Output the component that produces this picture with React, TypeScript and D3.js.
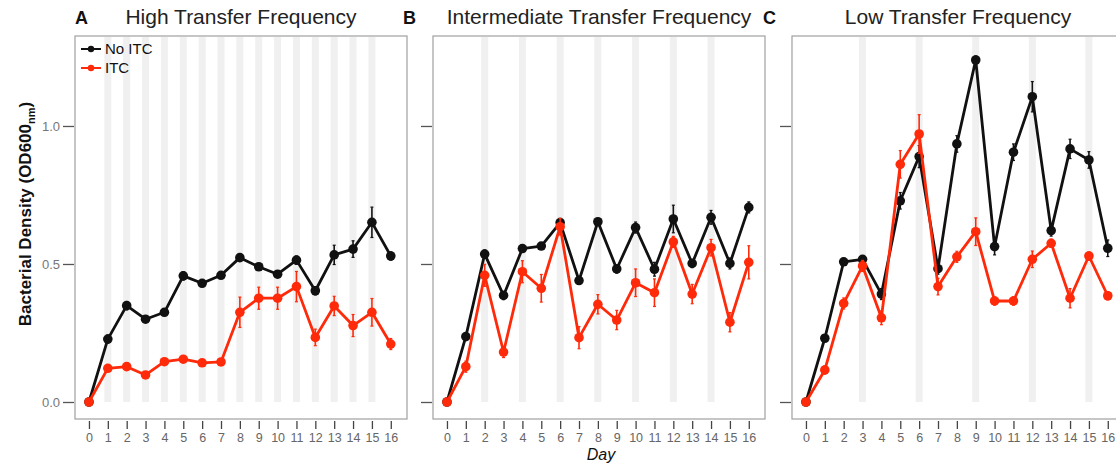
import React, { useEffect, useRef } from 'react';
import * as d3 from 'd3';

// days on the x axis
const days = [0, 1, 2, 3, 4, 5, 6, 7, 8, 9, 10, 11, 12, 13, 14, 15, 16];
const yTicks = [0, 0.5, 1.0];

// transfer days (grey bands)
const highStripes = [1, 2, 3, 4, 5, 6, 7, 8, 9, 10, 11, 12, 13, 14, 15];
const interStripes = [2, 4, 6, 8, 10, 12, 14];
const lowStripes = [3, 6, 9, 12, 15];

// High transfer frequency
const highNoItc = [0, 0.228, 0.349, 0.30, 0.325, 0.457, 0.43, 0.459, 0.523, 0.49, 0.463, 0.514, 0.403, 0.533, 0.554, 0.651, 0.529];
const highNoItcErr = [0, 0.015, 0.015, 0.012, 0.012, 0.015, 0.012, 0.01, 0.012, 0.012, 0.012, 0.015, 0.015, 0.035, 0.03, 0.055, 0.015];
const highItc = [0, 0.122, 0.128, 0.098, 0.146, 0.155, 0.142, 0.145, 0.325, 0.376, 0.376, 0.418, 0.234, 0.348, 0.277, 0.325, 0.21];
const highItcErr = [0, 0.01, 0.012, 0.01, 0.012, 0.012, 0.01, 0.01, 0.055, 0.04, 0.04, 0.055, 0.03, 0.035, 0.04, 0.05, 0.02];

// Intermediate transfer frequency
const interNoItc = [0, 0.237, 0.536, 0.386, 0.556, 0.565, 0.65, 0.44, 0.653, 0.482, 0.632, 0.481, 0.663, 0.502, 0.669, 0.502, 0.705];
const interNoItcErr = [0, 0.012, 0.015, 0.015, 0.012, 0.012, 0.015, 0.012, 0.012, 0.015, 0.02, 0.025, 0.05, 0.015, 0.025, 0.02, 0.02];
const interItc = [0, 0.128, 0.459, 0.181, 0.472, 0.412, 0.635, 0.233, 0.354, 0.297, 0.432, 0.396, 0.58, 0.391, 0.559, 0.289, 0.506];
const interItcErr = [0, 0.02, 0.04, 0.02, 0.04, 0.05, 0.03, 0.04, 0.035, 0.035, 0.05, 0.05, 0.02, 0.035, 0.03, 0.035, 0.06];

// Low transfer frequency
const lowNoItc = [0, 0.231, 0.508, 0.517, 0.391, 0.729, 0.889, 0.483, 0.935, 1.239, 0.563, 0.905, 1.106, 0.621, 0.917, 0.877, 0.557];
const lowNoItcErr = [0, 0.012, 0.012, 0.012, 0.02, 0.03, 0.04, 0.02, 0.03, 0.015, 0.03, 0.03, 0.055, 0.02, 0.035, 0.03, 0.03];
const lowItc = [0, 0.116, 0.357, 0.493, 0.305, 0.861, 0.971, 0.418, 0.526, 0.617, 0.366, 0.366, 0.517, 0.575, 0.376, 0.529, 0.385];
const lowItcErr = [0, 0.015, 0.02, 0.02, 0.025, 0.05, 0.07, 0.03, 0.02, 0.05, 0.015, 0.015, 0.03, 0.015, 0.035, 0.015, 0.015];

const BLACK = '#111';
const RED = '#ff2a0a';

const panels = [
  { letter: 'A', title: 'High Transfer Frequency', left: 75, letterX: 75, stripes: highStripes,
    series: [{ vals: highNoItc, err: highNoItcErr, color: BLACK }, { vals: highItc, err: highItcErr, color: RED }] },
  { letter: 'B', title: 'Intermediate Transfer Frequency', left: 433, letterX: 403, stripes: interStripes,
    series: [{ vals: interNoItc, err: interNoItcErr, color: BLACK }, { vals: interItc, err: interItcErr, color: RED }] },
  { letter: 'C', title: 'Low Transfer Frequency', left: 792, letterX: 763, stripes: lowStripes,
    series: [{ vals: lowNoItc, err: lowNoItcErr, color: BLACK }, { vals: lowItc, err: lowItcErr, color: RED }] },
];

const W = 1116;
const H = 467;
const panelW = 332;
const top = 36;
const bottom = 419;
const font = "'Liberation Sans', Arial, Helvetica, sans-serif";

export default function App() {
  const ref = useRef<SVGSVGElement>(null);

  useEffect(() => {
    const svg = d3.select(ref.current);
    svg.selectAll('*').remove();

    const x = d3.scaleLinear().domain([-0.74, 16.86]).range([0, panelW]);
    const y = d3.scaleLinear().domain([-0.0616, 1.326]).range([bottom, top]);

    panels.forEach((p, i) => {
      const g = svg.append('g').attr('transform', `translate(${p.left},0)`);

      // grey transfer bands
      g.selectAll('.band')
        .data(p.stripes)
        .enter().append('rect')
        .attr('class', 'band')
        .attr('x', (d) => x(d) - 3.5)
        .attr('y', top + 1)
        .attr('width', 7)
        .attr('height', y(0) - top - 1)
        .attr('fill', '#f0f0f0');

      // frame
      g.append('rect')
        .attr('x', 0).attr('y', top)
        .attr('width', panelW).attr('height', bottom - top)
        .attr('fill', 'none')
        .attr('stroke', '#a0a0a0')
        .attr('stroke-width', 1.2);

      // x axis, sits just below the frame
      const xa = g.append('g')
        .attr('transform', `translate(0,${bottom + 2})`)
        .call(d3.axisBottom(x).tickValues(days).tickSize(8).tickPadding(4).tickFormat(d3.format('d')));
      xa.select('.domain').remove();
      xa.selectAll('line').attr('stroke', '#444').attr('stroke-width', 1.3);
      xa.selectAll('text').attr('fill', '#666').attr('font-size', 12.5).attr('font-family', font);

      // y axis, labels only on the first panel
      const ya = g.append('g')
        .attr('transform', 'translate(-1,0)')
        .call(d3.axisLeft(y).tickValues(yTicks).tickSize(11).tickPadding(3)
          .tickFormat(i === 0 ? d3.format('.1f') : () => ''));
      ya.select('.domain').remove();
      ya.selectAll('line').attr('stroke', '#555').attr('stroke-width', 1.3);
      ya.selectAll('text').attr('fill', '#777').attr('font-size', 13).attr('font-family', font);

      const line = d3.line<number>()
        .x((_, j) => x(days[j]))
        .y((d) => y(d));

      p.series.forEach((s) => {
        const sg = g.append('g');
        // error bars
        sg.selectAll('.err')
          .data(s.vals)
          .enter().append('line')
          .attr('x1', (_, j) => x(days[j]))
          .attr('x2', (_, j) => x(days[j]))
          .attr('y1', (d, j) => y(d - s.err[j]))
          .attr('y2', (d, j) => y(d + s.err[j]))
          .attr('stroke', s.color)
          .attr('stroke-width', 1.6);
        sg.selectAll('.cap')
          .data(s.vals.flatMap((d, j) => (s.err[j] > 0 ? [[j, d - s.err[j]], [j, d + s.err[j]]] : [])))
          .enter().append('line')
          .attr('x1', (d) => x(days[d[0]]) - 1.5)
          .attr('x2', (d) => x(days[d[0]]) + 1.5)
          .attr('y1', (d) => y(d[1]))
          .attr('y2', (d) => y(d[1]))
          .attr('stroke', s.color)
          .attr('stroke-width', 1.2);

        sg.append('path')
          .attr('d', line(s.vals))
          .attr('fill', 'none')
          .attr('stroke', s.color)
          .attr('stroke-width', 2.8)
          .attr('stroke-linejoin', 'round');

        sg.selectAll('.pt')
          .data(s.vals)
          .enter().append('circle')
          .attr('cx', (_, j) => x(days[j]))
          .attr('cy', (d) => y(d))
          .attr('r', 4.8)
          .attr('fill', s.color);
      });

      // panel letter + title
      svg.append('text')
        .attr('x', p.letterX).attr('y', 24)
        .attr('font-family', font).attr('font-weight', 'bold').attr('font-size', 18)
        .attr('fill', '#111')
        .text(p.letter);
      svg.append('text')
        .attr('x', p.left + panelW / 2).attr('y', 24)
        .attr('text-anchor', 'middle')
        .attr('font-family', font).attr('font-size', 21)
        .attr('fill', '#222')
        .text(p.title);

      if (i === 0) {
        // legend
        const leg = [{ label: 'No ITC', color: BLACK }, { label: 'ITC', color: RED }];
        const lg = g.selectAll('.leg')
          .data(leg)
          .enter().append('g')
          .attr('transform', (_, k) => `translate(0,${49 + k * 19})`);
        lg.append('line')
          .attr('x1', 6).attr('x2', 26)
          .attr('stroke', (d) => d.color).attr('stroke-width', 2);
        lg.append('circle')
          .attr('cx', 16).attr('r', 3.2)
          .attr('fill', (d) => d.color);
        lg.append('text')
          .attr('x', 30).attr('dy', '0.35em')
          .attr('font-family', font).attr('font-size', 15)
          .attr('fill', '#111')
          .text((d) => d.label);
      }
    });

    // y label with subscript
    const yl = svg.append('text')
      .attr('transform', 'translate(31,214) rotate(-90)')
      .attr('text-anchor', 'middle')
      .attr('font-family', font).attr('font-weight', 'bold').attr('font-size', 17)
      .attr('fill', '#111');
    yl.append('tspan').text('Bacterial Density (OD600');
    yl.append('tspan').attr('font-size', 11).attr('dy', 4).text('nm');
    yl.append('tspan').attr('dy', -4).text(')');

    // x label
    svg.append('text')
      .attr('x', 601).attr('y', 460)
      .attr('text-anchor', 'middle')
      .attr('font-family', font).attr('font-style', 'italic').attr('font-size', 16)
      .attr('fill', '#111')
      .text('Day');
  }, []);

  return (
    <svg ref={ref} width={W} height={H}
      style={{ position: 'absolute', left: 0, top: 0, background: '#fff' }} />
  );
}
